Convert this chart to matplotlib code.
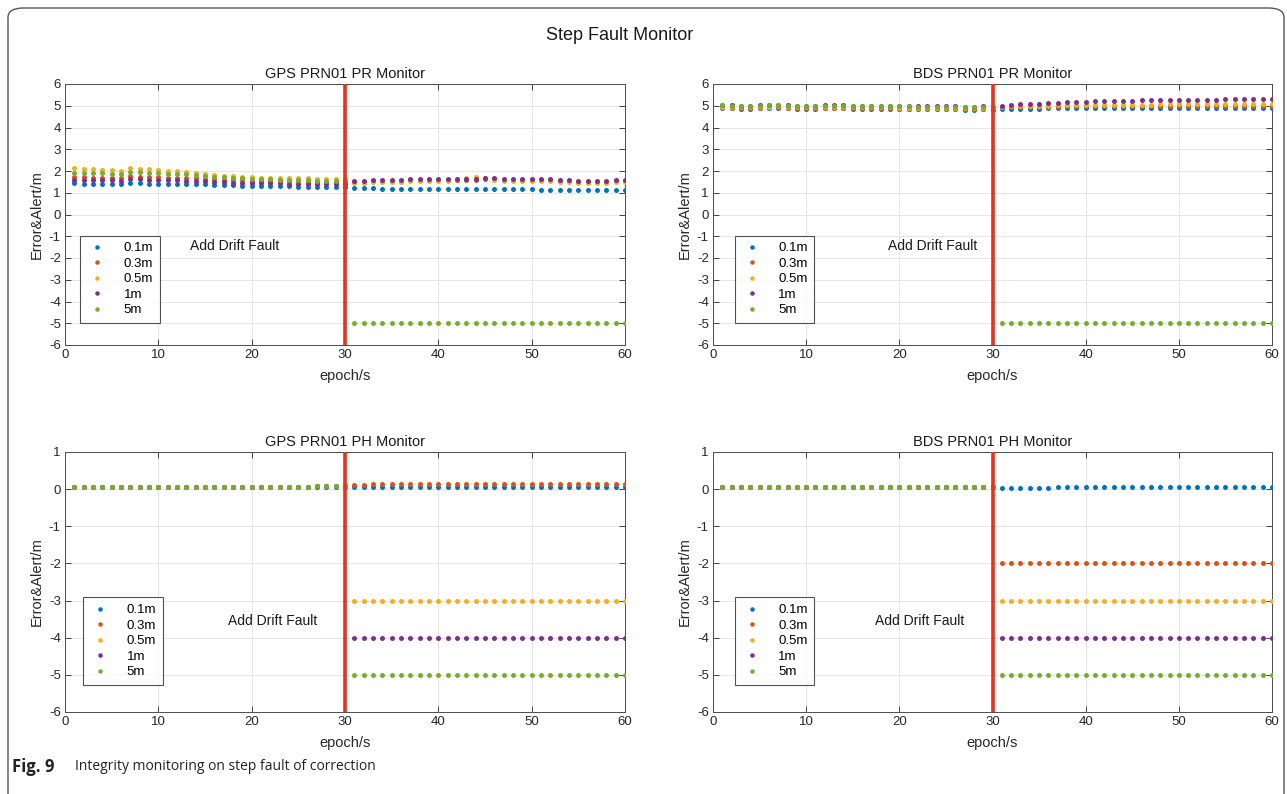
import numpy as np
import matplotlib
matplotlib.use("Agg")
import matplotlib.pyplot as plt
from matplotlib.patches import FancyBboxPatch

plt.rcParams['font.family'] = ['Liberation Sans', 'DejaVu Sans']
plt.rcParams['axes.unicode_minus'] = False

epochs = np.arange(1, 61)
fault_epoch = 30
labels = ['0.1m', '0.3m', '0.5m', '1m', '5m']
colors = ['#0072BD', '#D95319', '#EDB120', '#7E2F8E', '#77AC30']

# GPS PRN01 PR monitor
gps_pr_01 = [1.43, 1.42, 1.42, 1.41, 1.41, 1.40, 1.44, 1.43, 1.42, 1.42, 1.41, 1.41, 1.40, 1.39, 1.38,
             1.36, 1.35, 1.34, 1.33, 1.32, 1.31, 1.30, 1.30, 1.29, 1.28, 1.28, 1.27, 1.27, 1.26, 1.25,
             1.21, 1.20, 1.20, 1.19, 1.19, 1.18, 1.18, 1.18, 1.17, 1.17, 1.17, 1.17, 1.16, 1.16, 1.16,
             1.16, 1.15, 1.15, 1.15, 1.15, 1.14, 1.14, 1.14, 1.14, 1.13, 1.13, 1.13, 1.12, 1.12, 1.12]
gps_pr_03 = [1.72, 1.71, 1.70, 1.69, 1.68, 1.67, 1.75, 1.73, 1.72, 1.71, 1.70, 1.69, 1.68, 1.67, 1.65,
             1.62, 1.60, 1.58, 1.57, 1.56, 1.55, 1.54, 1.53, 1.52, 1.52, 1.51, 1.51, 1.50, 1.50, 1.49,
             1.50, 1.51, 1.52, 1.53, 1.54, 1.55, 1.57, 1.58, 1.58, 1.59, 1.59, 1.58, 1.59, 1.60, 1.61,
             1.61, 1.60, 1.59, 1.59, 1.58, 1.58, 1.57, 1.55, 1.53, 1.51, 1.50, 1.50, 1.51, 1.52, 1.53]
gps_pr_05 = [2.12, 2.10, 2.08, 2.06, 2.04, 2.02, 2.14, 2.10, 2.07, 2.04, 2.01, 1.98, 1.95, 1.92, 1.88,
             1.82, 1.79, 1.76, 1.74, 1.72, 1.70, 1.69, 1.68, 1.67, 1.66, 1.66, 1.65, 1.65, 1.64, 1.62,
             1.46, 1.47, 1.48, 1.49, 1.50, 1.51, 1.53, 1.54, 1.54, 1.55, 1.56, 1.62, 1.70, 1.72, 1.70,
             1.57, 1.56, 1.55, 1.55, 1.54, 1.54, 1.53, 1.51, 1.49, 1.47, 1.46, 1.46, 1.47, 1.48, 1.49]
gps_pr_1 = [1.60, 1.59, 1.58, 1.57, 1.57, 1.56, 1.62, 1.61, 1.60, 1.59, 1.58, 1.57, 1.56, 1.55, 1.53,
            1.50, 1.49, 1.47, 1.46, 1.45, 1.44, 1.43, 1.43, 1.42, 1.42, 1.41, 1.41, 1.40, 1.40, 1.39,
            1.55, 1.56, 1.57, 1.58, 1.59, 1.60, 1.62, 1.63, 1.63, 1.64, 1.64, 1.63, 1.64, 1.65, 1.66,
            1.66, 1.65, 1.64, 1.64, 1.63, 1.63, 1.62, 1.60, 1.58, 1.56, 1.55, 1.55, 1.56, 1.57, 1.58]
gps_pr_5 = [1.92, 1.91, 1.90, 1.89, 1.88, 1.87, 1.96, 1.94, 1.92, 1.90, 1.88, 1.86, 1.84, 1.82, 1.79,
            1.74, 1.71, 1.68, 1.66, 1.64, 1.62, 1.61, 1.60, 1.59, 1.58, 1.57, 1.56, 1.56, 1.55, 1.53,
            -5.0, -5.0, -5.0, -5.0, -5.0, -5.0, -5.0, -5.0, -5.0, -5.0, -5.0, -5.0, -5.0, -5.0, -5.0,
            -5.0, -5.0, -5.0, -5.0, -5.0, -5.0, -5.0, -5.0, -5.0, -5.0, -5.0, -5.0, -5.0, -5.0, -5.0]

# BDS PRN01 PR monitor
bds_pr_01 = [4.90, 4.89, 4.87, 4.86, 4.88, 4.90, 4.91, 4.89, 4.87, 4.86, 4.87, 4.88, 4.89, 4.88, 4.87,
             4.86, 4.86, 4.87, 4.86, 4.85, 4.85, 4.84, 4.84, 4.83, 4.84, 4.83, 4.82, 4.82, 4.83, 4.82,
             4.85, 4.86, 4.86, 4.87, 4.87, 4.88, 4.88, 4.88, 4.88, 4.89, 4.89, 4.89, 4.89, 4.89, 4.89,
             4.89, 4.89, 4.89, 4.89, 4.89, 4.89, 4.89, 4.89, 4.89, 4.89, 4.89, 4.89, 4.89, 4.89, 4.89]
bds_pr_03 = [4.92, 4.91, 4.89, 4.88, 4.90, 4.92, 4.93, 4.91, 4.89, 4.88, 4.89, 4.90, 4.91, 4.90, 4.89,
             4.88, 4.88, 4.89, 4.88, 4.87, 4.87, 4.86, 4.86, 4.85, 4.86, 4.85, 4.84, 4.84, 4.85, 4.84,
             4.92, 4.93, 4.94, 4.95, 4.95, 4.96, 4.96, 4.97, 4.97, 4.97, 4.98, 4.98, 4.98, 4.98, 4.99,
             4.99, 4.99, 4.99, 5.00, 5.00, 5.00, 5.00, 5.00, 5.00, 5.00, 5.00, 5.00, 5.00, 5.00, 5.00]
bds_pr_05 = [4.96, 4.95, 4.93, 4.92, 4.94, 4.96, 4.97, 4.95, 4.93, 4.92, 4.93, 4.94, 4.95, 4.94, 4.93,
             4.92, 4.92, 4.93, 4.92, 4.91, 4.91, 4.90, 4.90, 4.89, 4.90, 4.89, 4.88, 4.88, 4.89, 4.88,
             4.96, 4.97, 4.98, 4.99, 5.00, 5.01, 5.02, 5.02, 5.03, 5.03, 5.04, 5.04, 5.04, 5.05, 5.05,
             5.05, 5.05, 5.06, 5.06, 5.06, 5.06, 5.06, 5.06, 5.07, 5.07, 5.07, 5.07, 5.07, 5.07, 5.07]
bds_pr_1 = [5.04, 5.03, 5.01, 5.00, 5.02, 5.04, 5.05, 5.03, 5.01, 5.00, 5.01, 5.02, 5.03, 5.02, 5.01,
            5.00, 5.00, 5.01, 5.00, 4.99, 4.99, 4.98, 4.98, 4.97, 4.98, 4.97, 4.96, 4.96, 4.97, 4.96,
            5.00, 5.03, 5.06, 5.08, 5.10, 5.12, 5.14, 5.16, 5.18, 5.19, 5.20, 5.21, 5.22, 5.23, 5.24,
            5.25, 5.25, 5.26, 5.26, 5.27, 5.27, 5.28, 5.28, 5.28, 5.29, 5.29, 5.29, 5.30, 5.30, 5.30]
bds_pr_5 = [5.02, 5.01, 4.99, 4.98, 5.00, 5.02, 5.03, 5.01, 4.99, 4.98, 4.99, 5.00, 5.01, 5.00, 4.99,
            4.98, 4.98, 4.99, 4.98, 4.97, 4.97, 4.96, 4.96, 4.95, 4.96, 4.95, 4.94, 4.94, 4.95, 4.94,
            -5.0, -5.0, -5.0, -5.0, -5.0, -5.0, -5.0, -5.0, -5.0, -5.0, -5.0, -5.0, -5.0, -5.0, -5.0,
            -5.0, -5.0, -5.0, -5.0, -5.0, -5.0, -5.0, -5.0, -5.0, -5.0, -5.0, -5.0, -5.0, -5.0, -5.0]

# GPS PRN01 PH monitor
gps_ph_01 = [0.05, 0.05, 0.05, 0.05, 0.05, 0.05, 0.05, 0.05, 0.05, 0.05, 0.05, 0.05, 0.05, 0.05, 0.05,
             0.05, 0.05, 0.05, 0.06, 0.06, 0.06, 0.06, 0.06, 0.06, 0.06, 0.06, 0.07, 0.07, 0.07, 0.07,
             0.06, 0.06, 0.06, 0.06, 0.06, 0.06, 0.06, 0.06, 0.06, 0.06, 0.06, 0.06, 0.06, 0.06, 0.06,
             0.06, 0.06, 0.06, 0.06, 0.06, 0.06, 0.06, 0.06, 0.06, 0.06, 0.06, 0.06, 0.06, 0.06, 0.06]
gps_ph_03 = [0.06, 0.06, 0.06, 0.06, 0.06, 0.06, 0.06, 0.06, 0.06, 0.06, 0.06, 0.06, 0.06, 0.06, 0.06,
             0.06, 0.06, 0.06, 0.07, 0.07, 0.07, 0.07, 0.07, 0.07, 0.07, 0.07, 0.08, 0.08, 0.08, 0.08,
             0.12, 0.12, 0.13, 0.13, 0.13, 0.13, 0.14, 0.14, 0.14, 0.14, 0.14, 0.14, 0.14, 0.14, 0.14,
             0.14, 0.14, 0.14, 0.14, 0.14, 0.14, 0.14, 0.14, 0.13, 0.13, 0.13, 0.13, 0.13, 0.13, 0.13]
gps_ph_05 = [0.06, 0.06, 0.06, 0.06, 0.06, 0.06, 0.06, 0.06, 0.06, 0.06, 0.06, 0.06, 0.06, 0.06, 0.06,
             0.06, 0.06, 0.06, 0.07, 0.07, 0.07, 0.07, 0.07, 0.07, 0.07, 0.07, 0.08, 0.08, 0.08, 0.08,
             -3.0, -3.0, -3.0, -3.0, -3.0, -3.0, -3.0, -3.0, -3.0, -3.0, -3.0, -3.0, -3.0, -3.0, -3.0,
             -3.0, -3.0, -3.0, -3.0, -3.0, -3.0, -3.0, -3.0, -3.0, -3.0, -3.0, -3.0, -3.0, -3.0, -3.0]
gps_ph_1 = [0.06, 0.06, 0.06, 0.06, 0.06, 0.06, 0.06, 0.06, 0.06, 0.06, 0.06, 0.06, 0.06, 0.06, 0.06,
            0.06, 0.06, 0.06, 0.07, 0.07, 0.07, 0.07, 0.07, 0.07, 0.07, 0.07, 0.08, 0.08, 0.08, 0.08,
            -4.0, -4.0, -4.0, -4.0, -4.0, -4.0, -4.0, -4.0, -4.0, -4.0, -4.0, -4.0, -4.0, -4.0, -4.0,
            -4.0, -4.0, -4.0, -4.0, -4.0, -4.0, -4.0, -4.0, -4.0, -4.0, -4.0, -4.0, -4.0, -4.0, -4.0]
gps_ph_5 = [0.06, 0.06, 0.06, 0.06, 0.06, 0.06, 0.06, 0.06, 0.06, 0.06, 0.06, 0.06, 0.06, 0.06, 0.06,
            0.06, 0.06, 0.06, 0.07, 0.07, 0.07, 0.07, 0.07, 0.07, 0.07, 0.07, 0.08, 0.08, 0.08, 0.08,
            -5.0, -5.0, -5.0, -5.0, -5.0, -5.0, -5.0, -5.0, -5.0, -5.0, -5.0, -5.0, -5.0, -5.0, -5.0,
            -5.0, -5.0, -5.0, -5.0, -5.0, -5.0, -5.0, -5.0, -5.0, -5.0, -5.0, -5.0, -5.0, -5.0, -5.0]

# BDS PRN01 PH monitor
bds_ph_01 = [0.05, 0.05, 0.05, 0.05, 0.05, 0.05, 0.05, 0.05, 0.05, 0.05, 0.05, 0.05, 0.05, 0.05, 0.05,
             0.05, 0.05, 0.05, 0.05, 0.05, 0.05, 0.05, 0.05, 0.05, 0.05, 0.05, 0.05, 0.05, 0.05, 0.05,
             0.04, 0.04, 0.04, 0.04, 0.04, 0.04, 0.05, 0.05, 0.05, 0.05, 0.05, 0.05, 0.05, 0.05, 0.05,
             0.05, 0.05, 0.05, 0.05, 0.05, 0.05, 0.05, 0.05, 0.05, 0.05, 0.05, 0.05, 0.05, 0.05, 0.05]
bds_ph_03 = [0.05, 0.05, 0.05, 0.05, 0.05, 0.05, 0.05, 0.05, 0.05, 0.05, 0.05, 0.05, 0.05, 0.05, 0.05,
             0.05, 0.05, 0.05, 0.05, 0.05, 0.05, 0.05, 0.05, 0.05, 0.05, 0.05, 0.05, 0.05, 0.05, 0.05,
             -2.0, -2.0, -2.0, -2.0, -2.0, -2.0, -2.0, -2.0, -2.0, -2.0, -2.0, -2.0, -2.0, -2.0, -2.0,
             -2.0, -2.0, -2.0, -2.0, -2.0, -2.0, -2.0, -2.0, -2.0, -2.0, -2.0, -2.0, -2.0, -2.0, -2.0]
bds_ph_05 = [0.05, 0.05, 0.05, 0.05, 0.05, 0.05, 0.05, 0.05, 0.05, 0.05, 0.05, 0.05, 0.05, 0.05, 0.05,
             0.05, 0.05, 0.05, 0.05, 0.05, 0.05, 0.05, 0.05, 0.05, 0.05, 0.05, 0.05, 0.05, 0.05, 0.05,
             -3.0, -3.0, -3.0, -3.0, -3.0, -3.0, -3.0, -3.0, -3.0, -3.0, -3.0, -3.0, -3.0, -3.0, -3.0,
             -3.0, -3.0, -3.0, -3.0, -3.0, -3.0, -3.0, -3.0, -3.0, -3.0, -3.0, -3.0, -3.0, -3.0, -3.0]
bds_ph_1 = [0.05, 0.05, 0.05, 0.05, 0.05, 0.05, 0.05, 0.05, 0.05, 0.05, 0.05, 0.05, 0.05, 0.05, 0.05,
            0.05, 0.05, 0.05, 0.05, 0.05, 0.05, 0.05, 0.05, 0.05, 0.05, 0.05, 0.05, 0.05, 0.05, 0.05,
            -4.0, -4.0, -4.0, -4.0, -4.0, -4.0, -4.0, -4.0, -4.0, -4.0, -4.0, -4.0, -4.0, -4.0, -4.0,
            -4.0, -4.0, -4.0, -4.0, -4.0, -4.0, -4.0, -4.0, -4.0, -4.0, -4.0, -4.0, -4.0, -4.0, -4.0]
bds_ph_5 = [0.05, 0.05, 0.05, 0.05, 0.05, 0.05, 0.05, 0.05, 0.05, 0.05, 0.05, 0.05, 0.05, 0.05, 0.05,
            0.05, 0.05, 0.05, 0.05, 0.05, 0.05, 0.05, 0.05, 0.05, 0.05, 0.05, 0.05, 0.05, 0.05, 0.05,
            -5.0, -5.0, -5.0, -5.0, -5.0, -5.0, -5.0, -5.0, -5.0, -5.0, -5.0, -5.0, -5.0, -5.0, -5.0,
            -5.0, -5.0, -5.0, -5.0, -5.0, -5.0, -5.0, -5.0, -5.0, -5.0, -5.0, -5.0, -5.0, -5.0, -5.0]

panels = [
    ('GPS PRN01 PR Monitor', [gps_pr_01, gps_pr_03, gps_pr_05, gps_pr_1, gps_pr_5], (-6, 6), (18.2, -1.45)),
    ('BDS PRN01 PR Monitor', [bds_pr_01, bds_pr_03, bds_pr_05, bds_pr_1, bds_pr_5], (-6, 6), (23.6, -1.45)),
    ('GPS PRN01 PH Monitor', [gps_ph_01, gps_ph_03, gps_ph_05, gps_ph_1, gps_ph_5], (-6, 1), (22.2, -3.55)),
    ('BDS PRN01 PH Monitor', [bds_ph_01, bds_ph_03, bds_ph_05, bds_ph_1, bds_ph_5], (-6, 1), (22.2, -3.55)),
]

W, H = 1287, 794
fig = plt.figure(figsize=(W / 100, H / 100), dpi=100)

# axes boxes in pixels: left, top, right, bottom
boxes = [(65, 84, 625, 345), (713, 84, 1272, 345),
         (65, 452, 625, 712), (713, 452, 1272, 712)]
legend_anchor = [(0.027, 0.084), (0.039, 0.084), (0.032, 0.104), (0.039, 0.104)]

tick_col = '#262626'
for (title, series, ylim, txt), (l, t, r, b), anc in zip(panels, boxes, legend_anchor):
    ax = fig.add_axes([l / W, 1 - b / H, (r - l) / W, (b - t) / H])
    for vals, lab, c in zip(series, labels, colors):
        ax.plot(epochs, vals, 'o', ms=3.6, mew=0, color=c, label=lab, zorder=3)
    ax.axvline(fault_epoch, color='#e8321e', lw=2.6, zorder=4)
    ax.set_xlim(0, 60)
    ax.set_ylim(*ylim)
    ax.set_xticks(np.arange(0, 61, 10))
    ax.set_yticks(np.arange(ylim[0], ylim[1] + 1, 1))
    ax.grid(True, color='#e6e6e6', lw=0.7)
    ax.set_axisbelow(True)
    ax.tick_params(direction='in', top=True, right=True, length=4, width=0.6,
                   colors=tick_col, labelsize=9.5, pad=3)
    for s in ax.spines.values():
        s.set_color('#4d4d4d')
        s.set_linewidth(0.7)
    ax.set_title(title, fontsize=10.5, color='#1a1a1a', pad=4)
    ax.set_xlabel('epoch/s', fontsize=10.5, color=tick_col, labelpad=6)
    ax.set_ylabel('Error&Alert/m', fontsize=10.5, color=tick_col, labelpad=4)
    ax.text(txt[0], txt[1], 'Add Drift Fault', fontsize=10, ha='center', va='center', color='#1a1a1a')
    leg = ax.legend(loc='lower left', bbox_to_anchor=anc, fontsize=9.5, frameon=True, fancybox=False,
                    edgecolor='#262626', handlelength=1.6, handletextpad=1.2, borderpad=0.5,
                    labelspacing=0.25, markerscale=0.9, borderaxespad=0)
    leg.get_frame().set_linewidth(0.8)

fig.text(620 / W, 1 - 35 / H, 'Step Fault Monitor', ha='center', va='center', fontsize=13, color='#1a1a1a')

# caption
fig.text(12 / W, 1 - 767 / H, 'Fig. 9', ha='left', va='center', fontsize=12,
         fontweight='bold', family='Open Sans', color='#222222')
fig.text(75 / W, 1 - 767 / H, 'Integrity monitoring on step fault of correction', ha='left', va='center',
         fontsize=10, family='Open Sans', color='#222222')

border = FancyBboxPatch((8 / W, -0.05), 1276 / W, 1.05 - 8 / H,
                        boxstyle='round,pad=0,rounding_size=0.012', transform=fig.transFigure,
                        fill=False, edgecolor='#555555', lw=1.0)
fig.patches.append(border)

fig.savefig('out.png', dpi=100)
